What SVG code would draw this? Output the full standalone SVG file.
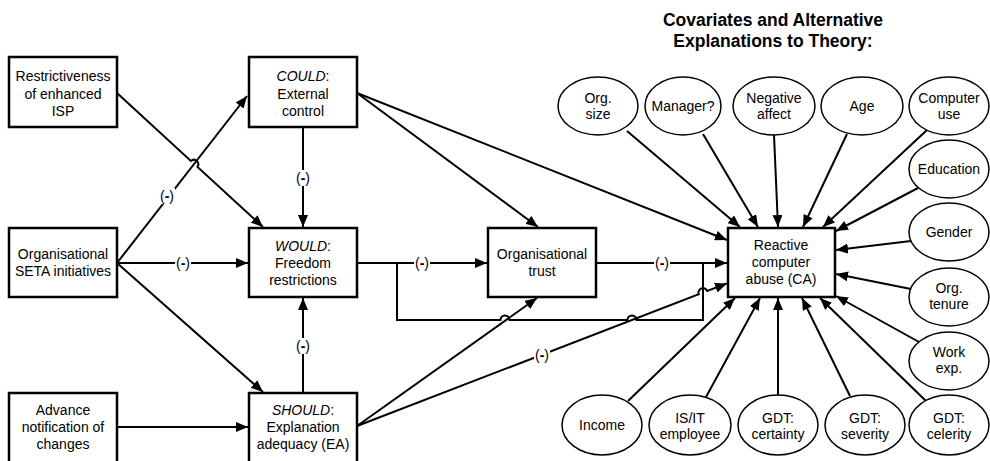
<svg xmlns="http://www.w3.org/2000/svg" width="990" height="461" viewBox="0 0 990 461">
<defs>
<marker id="ah" markerUnits="userSpaceOnUse" markerWidth="12" markerHeight="10" refX="12" refY="5" orient="auto">
<path d="M0,0 L12,5 L0,10 z" fill="#000"/>
</marker>
<style>
text{font-family:"Liberation Sans",Arial,sans-serif;font-size:14px;text-anchor:middle;fill:#000}
.title{font-weight:bold;font-size:17.5px}
.box{fill:#fff;stroke:#000;stroke-width:2.5}
.ell{fill:#fff;stroke:#000;stroke-width:1.5}
.ln{fill:none;stroke:#000;stroke-width:2}
.arr{marker-end:url(#ah)}
.bg{fill:#fff;stroke:none}
.m{font-weight:bold}
</style>
</defs>
<rect width="990" height="461" fill="#fff"/>
<g id="title">
<text class="title" x="773" y="26">Covariates and Alternative</text>
<text class="title" x="773" y="47">Explanations to Theory:</text>
</g>
<g id="connectors">
<path class="ln arr" d="M117,93 L190.9,160.9 A4.5 4.5 0 0 1 197.5,166.9 L263,227"/>
<path class="ln arr" d="M117,263 L247,96"/>
<path class="ln arr" d="M117,263 L248,263"/>
<path class="ln arr" d="M117,263 L263,392"/>
<path class="ln arr" d="M117,427 L248,427"/>
<path class="ln arr" d="M303,127 L303,227"/>
<path class="ln arr" d="M303,393 L303,298"/>
<path class="ln arr" d="M357,93 L538,227"/>
<path class="ln arr" d="M357,93 L727,240"/>
<path class="ln arr" d="M357,263 L487,263"/>
<path class="ln" d="M397,263 V320 H500.5 A4.5 4.5 0 0 1 509.5,320 H627.5 A4.5 4.5 0 0 1 636.5,320 H703 V263"/>
<path class="ln arr" d="M596,263 L727,263"/>
<path class="ln arr" d="M357,426 L537,298"/>
<path class="ln arr" d="M357,426 L698.8,294.3 A4.5 4.5 0 0 1 707.2,291 L727,283.4"/>
<path class="ln arr" d="M627,131 L740,227"/>
<path class="ln arr" d="M703,134 L758,227"/>
<path class="ln arr" d="M774,135 L778,227"/>
<path class="ln arr" d="M847,134 L803,227"/>
<path class="ln arr" d="M927,130 L823,227"/>
<path class="ln arr" d="M918,188 L836,231"/>
<path class="ln arr" d="M911,241 L836,250"/>
<path class="ln arr" d="M911,289 L836,274"/>
<path class="ln arr" d="M919,342 L836,296"/>
<path class="ln arr" d="M926,401 L820,298"/>
<path class="ln arr" d="M850,396 L802,298"/>
<path class="ln arr" d="M778,396 L778,298"/>
<path class="ln arr" d="M706,397 L760,298"/>
<path class="ln arr" d="M628,401 L735,298"/>
<g id="labels">
<rect class="bg" x="159" y="188" width="16" height="16"/><text x="167" y="201">(<tspan class="m">-</tspan>)</text>
<rect class="bg" x="175" y="255" width="16" height="16"/><text x="183" y="268">(<tspan class="m">-</tspan>)</text>
<rect class="bg" x="295" y="170" width="16" height="16"/><text x="303" y="183">(<tspan class="m">-</tspan>)</text>
<rect class="bg" x="295" y="338" width="16" height="16"/><text x="303" y="351">(<tspan class="m">-</tspan>)</text>
<rect class="bg" x="414" y="255" width="16" height="16"/><text x="422" y="268">(<tspan class="m">-</tspan>)</text>
<rect class="bg" x="654" y="255" width="16" height="16"/><text x="662" y="268">(<tspan class="m">-</tspan>)</text>
<rect class="bg" x="534" y="347" width="16" height="16"/><text x="542" y="360">(<tspan class="m">-</tspan>)</text>
</g>
</g>
<g id="restrictiveness">
<rect class="box" x="9" y="57" width="108" height="70"/>
<text x="63" y="81">Restrictiveness</text>
<text x="63" y="98.5">of enhanced</text>
<text x="63" y="116">ISP</text>
</g>
<g id="seta">
<rect class="box" x="9" y="228" width="108" height="69"/>
<text x="63" y="259">Organisational</text>
<text x="63" y="276">SETA initiatives</text>
</g>
<g id="advance">
<rect class="box" x="9" y="393" width="108" height="70"/>
<text x="63" y="415">Advance</text>
<text x="63" y="432">notification of</text>
<text x="63" y="449">changes</text>
</g>
<g id="could">
<rect class="box" x="249" y="57" width="108" height="70"/>
<text x="303" y="81"><tspan font-style="italic">COULD</tspan>:</text>
<text x="303" y="98.5">External</text>
<text x="303" y="116">control</text>
</g>
<g id="would">
<rect class="box" x="249" y="228" width="108" height="69"/>
<text x="303" y="251"><tspan font-style="italic">WOULD</tspan>:</text>
<text x="303" y="268">Freedom</text>
<text x="303" y="285">restrictions</text>
</g>
<g id="should">
<rect class="box" x="249" y="393" width="108" height="70"/>
<text x="303" y="415"><tspan font-style="italic">SHOULD</tspan>:</text>
<text x="303" y="432">Explanation</text>
<text x="303" y="449">adequacy (EA)</text>
</g>
<g id="trust">
<rect class="box" x="488" y="228" width="108" height="69"/>
<text x="542" y="259">Organisational</text>
<text x="542" y="276">trust</text>
</g>
<g id="ca">
<rect class="box" x="728" y="228" width="107" height="69"/>
<text x="781" y="250">Reactive</text>
<text x="781" y="267">computer</text>
<text x="781" y="284">abuse (CA)</text>
</g>
<g id="orgsize"><ellipse class="ell" cx="598" cy="106" rx="40" ry="29"/><text x="598" y="103">Org.</text><text x="598" y="119">size</text></g>
<g id="manager"><ellipse class="ell" cx="683" cy="106" rx="38" ry="29"/><text x="683" y="111">Manager?</text></g>
<g id="negaffect"><ellipse class="ell" cx="774" cy="106" rx="41" ry="29"/><text x="774" y="103">Negative</text><text x="774" y="119">affect</text></g>
<g id="age"><ellipse class="ell" cx="862" cy="106" rx="41" ry="29"/><text x="862" y="111">Age</text></g>
<g id="compuse"><ellipse class="ell" cx="949" cy="106" rx="40" ry="29"/><text x="949" y="103">Computer</text><text x="949" y="119">use</text></g>
<g id="education"><ellipse class="ell" cx="949" cy="169" rx="40" ry="29"/><text x="949" y="174">Education</text></g>
<g id="gender"><ellipse class="ell" cx="949" cy="232" rx="40" ry="29"/><text x="949" y="237">Gender</text></g>
<g id="orgtenure"><ellipse class="ell" cx="949" cy="297" rx="40" ry="29"/><text x="949" y="293">Org.</text><text x="949" y="309">tenure</text></g>
<g id="workexp"><ellipse class="ell" cx="949" cy="361" rx="40" ry="29"/><text x="949" y="357">Work</text><text x="949" y="373">exp.</text></g>
<g id="income"><ellipse class="ell" cx="602" cy="425" rx="40" ry="30"/><text x="602" y="430">Income</text></g>
<g id="isit"><ellipse class="ell" cx="690" cy="425" rx="41" ry="30"/><text x="690" y="423">IS/IT</text><text x="690" y="439">employee</text></g>
<g id="certainty"><ellipse class="ell" cx="778" cy="425" rx="40" ry="30"/><text x="778" y="423">GDT:</text><text x="778" y="439">certainty</text></g>
<g id="severity"><ellipse class="ell" cx="865" cy="425" rx="40" ry="30"/><text x="865" y="423">GDT:</text><text x="865" y="439">severity</text></g>
<g id="celerity"><ellipse class="ell" cx="949" cy="425" rx="40" ry="30"/><text x="949" y="423">GDT:</text><text x="949" y="439">celerity</text></g>
</svg>
